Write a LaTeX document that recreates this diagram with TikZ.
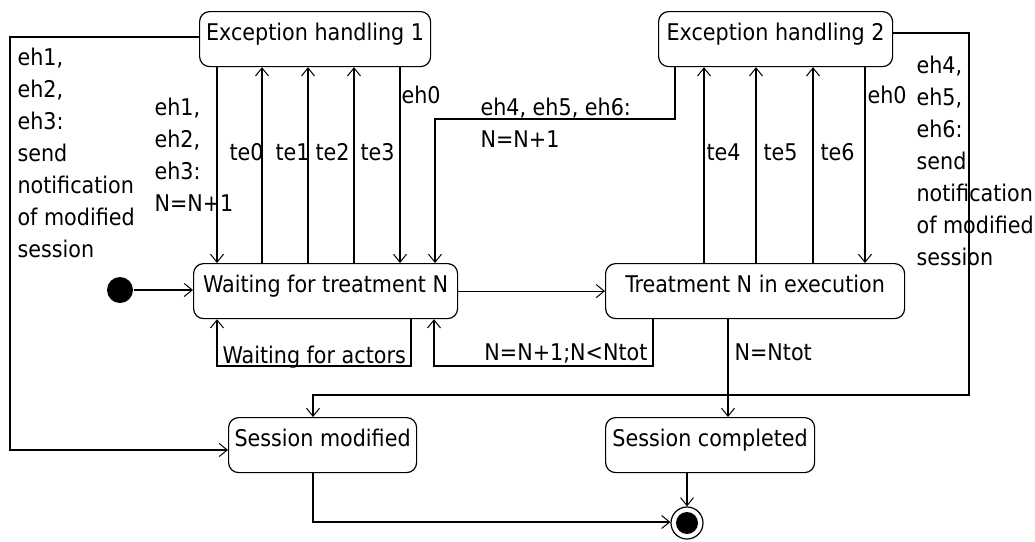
\documentclass[tikz,border=0pt]{standalone}
\usepackage{fontspec}
\setmainfont{DejaVu Sans Condensed}
\usetikzlibrary{arrows.meta}
\begin{document}
\begin{tikzpicture}[x=1pt,y=-1pt,
  font=\fontsize{23}{32}\selectfont,
  line width=1.2pt,
  >={Straight Barb[length=8pt,width=13pt,line width=1pt]},
  state/.style={draw, rounded corners=10pt, inner xsep=0pt, inner ysep=0pt,
    text height=29pt, text depth=26pt, anchor=north west},
  lbl/.style={anchor=base west, inner sep=0pt, align=left},
]
\fill[white] (0,0) rectangle (1035,541);
\useasboundingbox (0,0) rectangle (1035,541);

% states
\node[state, minimum width=231pt] (eh1) at (199,11) {Exception handling 1};
\node[state, minimum width=234pt] (eh2) at (658,11) {Exception handling 2};
\node[state, minimum width=264pt] (wt) at (193,263) {Waiting for treatment N};
\node[state, minimum width=299pt] (tr) at (605,263) {Treatment N in execution};
\node[state, minimum width=188pt] (sm) at (228,417) {Session modified};
\node[state, minimum width=209pt] (sc) at (605,417) {Session completed};

\node[circle, fill, minimum size=26pt, inner sep=0pt] (init) at (120,290) {};
\node[circle, draw, minimum size=32pt, inner sep=0pt] (fin) at (687,523) {};
\node[circle, fill, minimum size=22pt, inner sep=0pt] (finin) at (fin) {};

% x positions of vertical connectors
\coordinate (a0) at (217,0);
\coordinate (a1) at (262,0);
\coordinate (a2) at (308,0);
\coordinate (a3) at (354,0);
\coordinate (a4) at (400,0);
\coordinate (b1) at (704,0);
\coordinate (b2) at (756,0);
\coordinate (b3) at (813,0);
\coordinate (b4) at (865,0);
\coordinate (c0) at (728,0);

% bend points
\coordinate (l1) at (10,37);
\coordinate (l2) at (10,450);
\coordinate (r1) at (969,33);
\coordinate (r2) at (969,395);
\coordinate (r3) at (313,395);
\coordinate (m1) at (675,119);
\coordinate (m2) at (435,119);
\coordinate (s1) at (411,366);
\coordinate (s2) at (217,366);
\coordinate (t1) at (653,366);
\coordinate (t2) at (434,366);
\coordinate (f1) at (313,522);

% connectors
\draw[->] (init) -- (init -| wt.west);
\draw[->] (wt.east) -- (tr.west);

\draw[->] (eh1.south -| a0) -- (wt.north -| a0);
\draw[->] (wt.north -| a1) -- (eh1.south -| a1);
\draw[->] (wt.north -| a2) -- (eh1.south -| a2);
\draw[->] (wt.north -| a3) -- (eh1.south -| a3);
\draw[->] (eh1.south -| a4) -- (wt.north -| a4);

\draw[->] (tr.north -| b1) -- (eh2.south -| b1);
\draw[->] (tr.north -| b2) -- (eh2.south -| b2);
\draw[->] (tr.north -| b3) -- (eh2.south -| b3);
\draw[->] (eh2.south -| b4) -- (tr.north -| b4);

\draw[->] (eh2.south -| m1) -- (m1) -- (m2) -- (wt.north -| m2);
\draw[->] (eh1.west |- l1) -- (l1) -- (l2) -- (sm.west |- l2);
\draw[->] (eh2.east |- r1) -- (r1) -- (r2) -- (r3) -- (sm.north -| r3);

\draw[->] (wt.south -| s1) -- (s1) -- (s2) -- (wt.south -| s2);
\draw[->] (tr.south -| t1) -- (t1) -- (t2) -- (wt.south -| t2);
\draw[->] (tr.south -| c0) -- (sc.north -| c0);

\draw[->] (sc.south -| fin) -- (fin.north);
\draw[->] (sm.south -| f1) -- (f1) -- (fin.west |- f1);

% labels (anchor base = baseline of the last line)
\node[lbl] (lA) at (17,257) {eh1,\\eh2,\\eh3:\\send\\notification\\of modified\\session};
\node[lbl] (lB) at (154,211) {eh1,\\eh2,\\eh3:\\N=N+1};
\node[lbl] (lte0) at (229,160) {te0};
\node[lbl] (lte1) at (275,160) {te1};
\node[lbl] (lte2) at (315,160) {te2};
\node[lbl] (lte3) at (360,160) {te3};
\node[lbl] (leh0a) at (401,103) {eh0};
\node[lbl] (lC) at (480,147) {eh4, eh5, eh6:\\N=N+1};
\node[lbl] (lte4) at (706,160) {te4};
\node[lbl] (lte5) at (763,160) {te5};
\node[lbl] (lte6) at (820,160) {te6};
\node[lbl] (leh0b) at (867,103) {eh0};
\node[lbl] (lD) at (916,265) {eh4,\\eh5,\\eh6:\\send\\notification\\of modified\\session};
\node[lbl] (lwa) at (222,363) {Waiting for actors};
\node[anchor=base east, inner sep=0pt] (lnn) at (648,360) {N=N+1;N<Ntot};
\node[lbl] (lnt) at (734,360) {N=Ntot};
\end{tikzpicture}
\end{document}
